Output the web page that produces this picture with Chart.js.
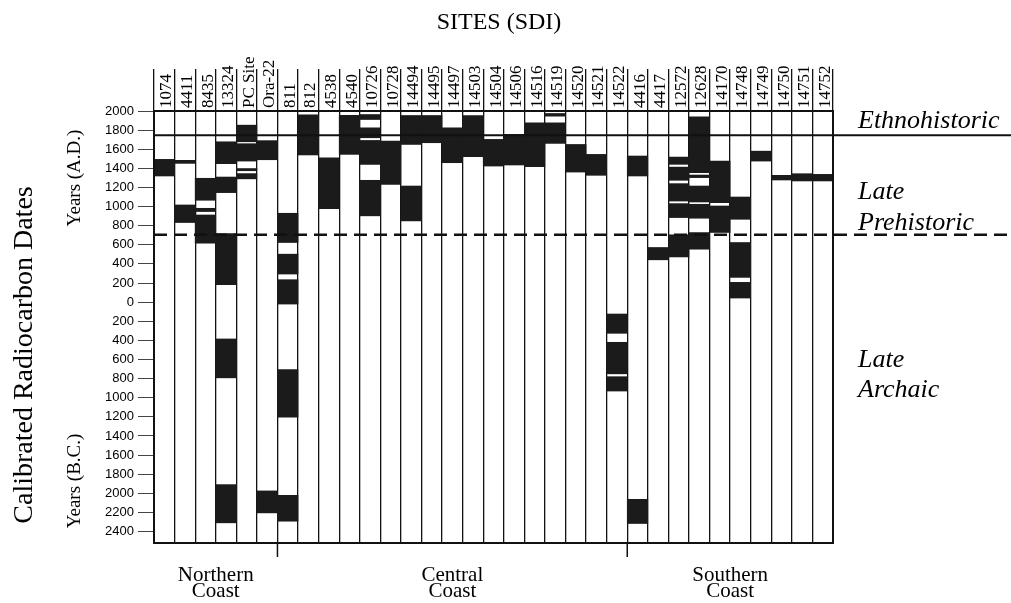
<!DOCTYPE html>
<html>
<head>
<meta charset="utf-8">
<script src="https://cdn.jsdelivr.net/npm/chart.js@4/dist/chart.umd.min.js"></script>
<style>html,body{margin:0;padding:0;background:#fff;}</style>
</head>
<body>
<canvas id="chart" width="1011" height="603"></canvas>
<script>
// sites in column order
const SITES = ['1074', '4411', '8435', '13324', 'PC Site', 'Ora-22', '811', '812', '4538', '4540',
  '10726', '10728', '14494', '14495', '14497', '14503', '14504', '14506', '14516', '14519',
  '14520', '14521', '14522', '4416', '4417', '12572', '12628', '14170', '14748', '14749',
  '14750', '14751', '14752'];

// calibrated date ranges (black) per site, years A.D. (negative = B.C.)
const BLACK_SPANS = [
  [[1320, 1494]],
  [[833, 1017], [1452, 1484]],
  [[617, 912], [948, 982], [1066, 1296]],
  [[-2309, -1909], [-792, -385], [182, 718], [1146, 1309], [1449, 1678]],
  [[1290, 1345], [1375, 1398], [1476, 1658], [1678, 1852]],
  [[-2205, -1975], [1490, 1690]],
  [[-2292, -2021], [-1203, -705], [-20, 235], [294, 502], [624, 930]],
  [[1540, 1960]],
  [[979, 1511]],
  [[1546, 1955]],
  [[903, 1275], [1441, 1692], [1720, 1824], [1911, 1963]],
  [[1233, 1685]],
  [[850, 1215], [1650, 1953]],
  [[1668, 1953]],
  [[1459, 1824]],
  [[1522, 1953]],
  [[1424, 1703]],
  [[1435, 1755]],
  [[1417, 1876]],
  [[1661, 1876], [1946, 1974]],
  [[1361, 1650]],
  [[1327, 1546]],
  [[-930, -780], [-750, -420], [-326, -124]],
  [[-2316, -2063], [1320, 1529]],
  [[443, 572]],
  [[473, 705], [885, 1031], [1058, 1240], [1275, 1413], [1442, 1518]],
  [[554, 728], [878, 1024], [1048, 1215], [1303, 1330], [1355, 1940]],
  [[729, 1006], [1042, 1476]],
  [[43, 207], [259, 624], [867, 1100]],
  [[1476, 1580]],
  [[1278, 1327]],
  [[1268, 1344]],
  [[1268, 1337]]
];

const COAST_NAMES = [['Northern', 'Coast'], ['Central', 'Coast'], ['Southern', 'Coast']];
const COAST_START = [0, 6, 23];   // first site index of each coast

const TICK_VALUES = [2000, 1800, 1600, 1400, 1200, 1000, 800, 600, 400, 200, 0,
  -200, -400, -600, -800, -1000, -1200, -1400, -1600, -1800, -2000, -2200, -2400];
const Y_MIN = -2520;
const Y_MAX = 2000;

const ETHNO_LINE = 1745;    // Ethnohistoric / Late Prehistoric
const PREHIST_LINE = 705;   // Late Prehistoric / Late Archaic

const SERIF = '"Liberation Serif", "Times New Roman", serif';

const maxSpans = Math.max(...BLACK_SPANS.map(s => s.length));
const datasets = [];
for (let k = 0; k < maxSpans; k++) {
  datasets.push({
    data: BLACK_SPANS.map(s => s[k] || null),
    backgroundColor: '#1b1b1b',
    borderWidth: 0,
    grouped: false,
    categoryPercentage: 1,
    barPercentage: 1
  });
}

// frame, period lines and the loose text around the plot
const overlay = {
  id: 'overlay',
  afterDatasetsDraw(chart) {
    const {ctx, chartArea: a, scales: {x, y}} = chart;
    ctx.save();
    ctx.strokeStyle = '#111';
    ctx.fillStyle = '#000';

    ctx.lineWidth = 2;
    let py = y.getPixelForValue(ETHNO_LINE);
    ctx.beginPath(); ctx.moveTo(a.left, py); ctx.lineTo(chart.width, py); ctx.stroke();

    ctx.lineWidth = 2.5;
    ctx.setLineDash([13, 7]);
    py = y.getPixelForValue(PREHIST_LINE);
    ctx.beginPath(); ctx.moveTo(a.left, py); ctx.lineTo(chart.width, py); ctx.stroke();
    ctx.setLineDash([]);

    ctx.lineWidth = 2;
    ctx.strokeRect(a.left, a.top, a.right - a.left, a.bottom - a.top);

    // coast groups
    const half = (x.getPixelForValue(1) - x.getPixelForValue(0)) / 2;
    ctx.font = '21px ' + SERIF;
    ctx.textAlign = 'center';
    ctx.textBaseline = 'alphabetic';
    COAST_START.forEach((s, i) => {
      const end = i + 1 < COAST_START.length ? COAST_START[i + 1] : SITES.length;
      const x0 = x.getPixelForValue(s) - half;
      const x1 = x.getPixelForValue(end - 1) + half;
      if (s > 0) {
        ctx.lineWidth = 1.5;
        ctx.beginPath(); ctx.moveTo(x0, a.bottom); ctx.lineTo(x0, a.bottom + 14); ctx.stroke();
      }
      COAST_NAMES[i].forEach((t, j) => ctx.fillText(t, (x0 + x1) / 2, 581 + j * 16));
    });

    // title
    ctx.font = '24px ' + SERIF;
    ctx.textBaseline = 'middle';
    ctx.fillText('SITES (SDI)', 499, 23);

    // left titles
    const vText = (t, cx, cy, size) => {
      ctx.save();
      ctx.translate(cx, cy);
      ctx.rotate(-Math.PI / 2);
      ctx.font = size + 'px ' + SERIF;
      ctx.fillText(t, 0, 0);
      ctx.restore();
    };
    vText('Calibrated Radiocarbon Dates', 25, 355, 28);
    vText('Years (A.D.)', 75, 178, 19);
    vText('Years (B.C.)', 75, 481, 19);

    // period names
    ctx.font = 'italic 26px ' + SERIF;
    ctx.textAlign = 'left';
    ctx.textBaseline = 'alphabetic';
    ctx.fillText('Ethnohistoric', 858, 128);
    ctx.fillText('Late', 858, 199);
    ctx.fillText('Prehistoric', 858, 230);
    ctx.fillText('Late', 858, 367);
    ctx.fillText('Archaic', 858, 397);
    ctx.restore();
  }
};

new Chart(document.getElementById('chart'), {
  type: 'bar',
  data: {labels: SITES, datasets: datasets},
  options: {
    responsive: false,
    animation: false,
    layout: {padding: {left: 0, top: 0, right: 178, bottom: 60}},
    plugins: {legend: {display: false}, tooltip: {enabled: false}},
    scales: {
      x: {
        position: 'top',
        offset: true,
        grid: {offset: true, color: '#111', lineWidth: 1.3, drawTicks: true, tickLength: 42, tickColor: '#111'},
        border: {display: false},
        ticks: {
          autoSkip: false, minRotation: 90, maxRotation: 90, padding: -39, labelOffset: 23,
          color: '#000', font: {family: SERIF, size: 17}
        },
        afterFit(s) { s.height = 111; }
      },
      y: {
        min: Y_MIN,
        max: Y_MAX,
        afterBuildTicks(s) { s.ticks = TICK_VALUES.map(v => ({value: v})); },
        ticks: {
          callback: v => String(Math.abs(v)),
          color: '#000', padding: 4,
          font: {family: '"Liberation Sans", Arial, sans-serif', size: 13}
        },
        grid: {drawOnChartArea: false, drawTicks: true, tickLength: 16, color: '#444', lineWidth: 1},
        border: {display: false},
        afterFit(s) { s.width = 154; }
      }
    }
  },
  plugins: [overlay]
});
</script>
</body>
</html>
